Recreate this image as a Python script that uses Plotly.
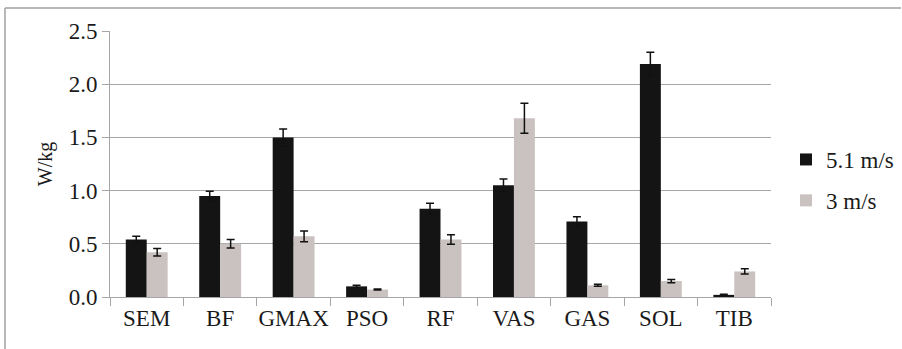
import plotly.graph_objects as go

categories = ["SEM", "BF", "GMAX", "PSO", "RF", "VAS", "GAS", "SOL", "TIB"]
fast_vals = [0.54, 0.95, 1.50, 0.10, 0.83, 1.05, 0.71, 2.19, 0.02]
fast_err = [0.03, 0.045, 0.08, 0.01, 0.05, 0.06, 0.045, 0.11, 0.005]
slow_vals = [0.42, 0.50, 0.57, 0.07, 0.54, 1.68, 0.11, 0.15, 0.24]
slow_err = [0.035, 0.04, 0.05, 0.005, 0.045, 0.14, 0.01, 0.015, 0.025]
yticks = [0.0, 0.5, 1.0, 1.5, 2.0, 2.5]
ytick_labels = ["0.0", "0.5", "1.0", "1.5", "2.0", "2.5"]

W, H = 902, 349
ML, MR, MT, MB = 110, 131, 31, 52
pw, ph = W - ML - MR, H - MT - MB

FONT = "Liberation Serif, Times New Roman, serif"
BLACK = "#141414"
GRAY = "#c9c2c0"
GRID = "#a6a6a6"
TXT = "#1a1a1a"
FS = 23

fig = go.Figure()
fig.add_trace(go.Bar(
    x=categories, y=fast_vals, name="5.1 m/s", legendgroup="a",
    marker=dict(color=BLACK, line=dict(width=0)),
    error_y=dict(type="data", array=fast_err, color="#111111", thickness=1.5, width=4),
))
fig.add_trace(go.Bar(
    x=categories, y=slow_vals, name="3 m/s", legendgroup="b",
    marker=dict(color=GRAY, line=dict(width=0)),
    error_y=dict(type="data", array=slow_err, color="#111111", thickness=1.5, width=4),
))

def px_x(p):
    return (p - ML) / pw

def px_y(p):
    return (H - MB - p) / ph

fig.update_layout(
    width=W, height=H,
    margin=dict(l=ML, r=MR, t=MT, b=MB, pad=0, autoexpand=False),
    paper_bgcolor="white", plot_bgcolor="white",
    font=dict(family=FONT, size=FS, color=TXT),
    barmode="group", bargap=0.43, bargroupgap=0,
    showlegend=True,
    legend=dict(
        x=px_x(786), xanchor="left", y=px_y(180), yanchor="middle",
        font=dict(family=FONT, size=FS, color=TXT),
        tracegroupgap=8, itemwidth=30, bgcolor="rgba(0,0,0,0)",
    ),
    xaxis=dict(
        type="category", showgrid=False, showline=True, linecolor=GRID, linewidth=1,
        ticks="outside", tickson="boundaries", ticklen=8, tickcolor=GRID, tickwidth=1,
        tickangle=0, automargin=False,
        tickfont=dict(family=FONT, size=FS, color=TXT),
    ),
    yaxis=dict(
        range=[0, 2.5], tickvals=yticks, ticktext=ytick_labels,
        showgrid=True, gridcolor=GRID, gridwidth=1,
        showline=True, linecolor=GRID, linewidth=1,
        ticks="outside", ticklen=7, tickcolor=GRID, tickwidth=1,
        zeroline=False, automargin=False,
        tickfont=dict(family=FONT, size=FS, color=TXT),
        title=dict(text="W/kg", font=dict(family=FONT, size=20, color=TXT), standoff=10),
    ),
    shapes=[
        dict(type="line", xref="paper", yref="paper",
             x0=px_x(5), x1=px_x(901), y0=px_y(8), y1=px_y(8),
             line=dict(color="#a0a0a0", width=1.5)),
        dict(type="line", xref="paper", yref="paper",
             x0=px_x(5), x1=px_x(5), y0=px_y(8), y1=px_y(349),
             line=dict(color="#a0a0a0", width=1.5)),
    ],
)

fig.write_html("out.html")
